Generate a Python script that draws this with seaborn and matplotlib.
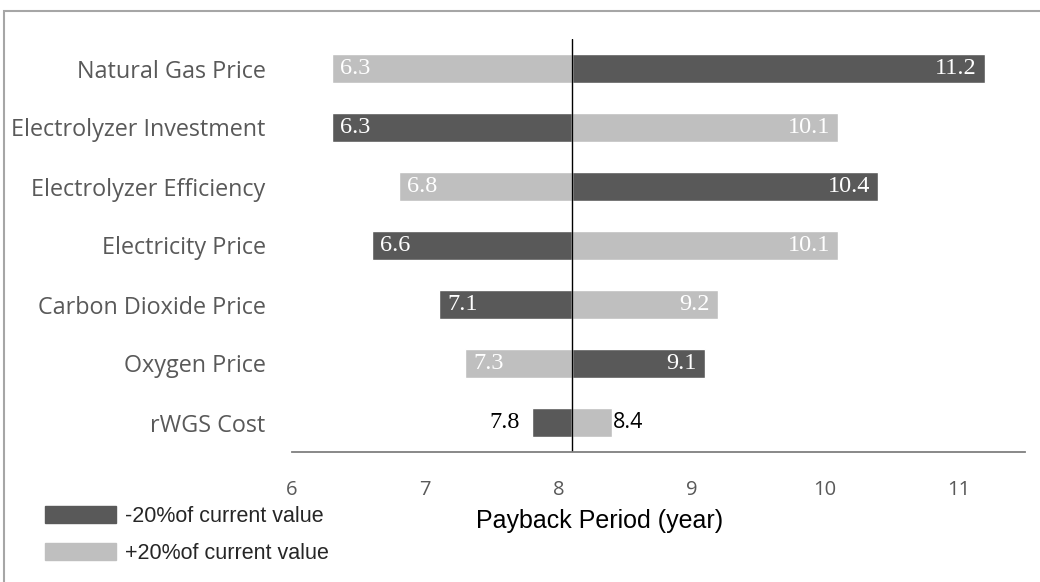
import matplotlib
matplotlib.use("Agg")
import matplotlib.pyplot as plt
import matplotlib.patches as mpatches
from matplotlib import font_manager
import pandas as pd
import seaborn as sns

categories = ["Natural Gas Price", "Electrolyzer Investment", "Electrolyzer Efficiency",
              "Electricity Price", "Carbon Dioxide Price", "Oxygen Price", "rWGS Cost"]
minus20 = [11.2, 6.3, 10.4, 6.6, 7.1, 9.1, 7.8]
plus20 = [6.3, 10.1, 6.8, 10.1, 9.2, 7.3, 8.4]
base_value = 8.1
series_names = ["-20%of current value", "+20%of current value"]
x_ticks = [6, 7, 8, 9, 10, 11]
colors = ["#595959", "#BFBFBF"]


def pick_font(*names):
    installed = {f.name for f in font_manager.fontManager.ttflist}
    for n in names:
        if n in installed:
            return n
    return "DejaVu Sans"


narrow = pick_font("Liberation Sans Narrow", "Liberation Sans")
calib = pick_font("Open Sans", "Lato")
serif = pick_font("Liberation Serif", "DejaVu Serif")

df = pd.DataFrame({
    "Parameter": categories * 2,
    "Scenario": [series_names[0]] * len(categories) + [series_names[1]] * len(categories),
    "Payback": minus20 + plus20,
})
df["Delta"] = df["Payback"] - base_value

sns.set_theme(style="white")
fig = plt.figure(figsize=(10.4, 5.82), dpi=100)
ax = fig.add_axes([292 / 1040, 1 - 452 / 582, (1025 - 292) / 1040, (452 - 39) / 582])

sns.barplot(data=df, y="Parameter", x="Delta", hue="Scenario", palette=colors,
            dodge=False, width=0.5, orient="y", left=base_value, errorbar=None,
            saturation=1, legend=False, ax=ax)

ax.axvline(base_value, color="black", lw=1)
ax.set_xlim(6, 11.5)
ax.set_ylim(6.5, -0.5)
ax.set_xticks(x_ticks)
ax.set_xticklabels([str(t) for t in x_ticks], family=calib)
ax.set_yticklabels(categories, family=calib)
ax.set_xlabel("")
ax.set_ylabel("")
ax.tick_params(axis="x", length=0, pad=20, labelsize=14.5, labelcolor="#595959")
ax.tick_params(axis="y", length=0, pad=19, labelsize=16.8, labelcolor="#595959")
for s in ["top", "left", "right"]:
    ax.spines[s].set_visible(False)
ax.spines["bottom"].set_color("#7F7F7F")
ax.spines["bottom"].set_linewidth(1.3)

# value labels at the outer ends of the bars
for vals in (minus20, plus20):
    for i, v in enumerate(vals):
        outside = abs(v - base_value) < 0.5
        if v < base_value:
            off, ha = (-9, "right") if outside else (6, "left")
        else:
            off, ha = (1, "left") if outside else (-6, "right")
        if outside:
            fam = serif if v < base_value else calib
            col = "black"
            size = 17.5 if v < base_value else 15.5
        else:
            fam = serif
            col = "white"
            size = 17.5
        ax.annotate(f"{v:.1f}", (v, i), xytext=(off, 0), textcoords="offset points",
                    ha=ha, va="center", color=col, fontsize=size, family=fam)

# outer frame
fig.add_artist(mpatches.Rectangle((4 / 1040, -0.1), 1.2, 1 - 11 / 582 + 0.1,
                                  transform=fig.transFigure, fill=False,
                                  ec="#A6A6A6", lw=1.5))

handles = [mpatches.Patch(color=c) for c in colors]
fig.legend(handles, series_names, loc="upper left",
           bbox_to_anchor=(45 / 1040, 1 - 506 / 582), frameon=False,
           borderpad=0, borderaxespad=0, handlelength=3.3, handleheight=0.85,
           handletextpad=0.4, labelspacing=0.72,
           prop={"family": narrow, "size": 15.5})

fig.text(600 / 1040, 1 - 521 / 582, "Payback Period (year)", ha="center",
         va="center", fontsize=18, family=narrow, color="black")

fig.savefig("out.png", dpi=100)
